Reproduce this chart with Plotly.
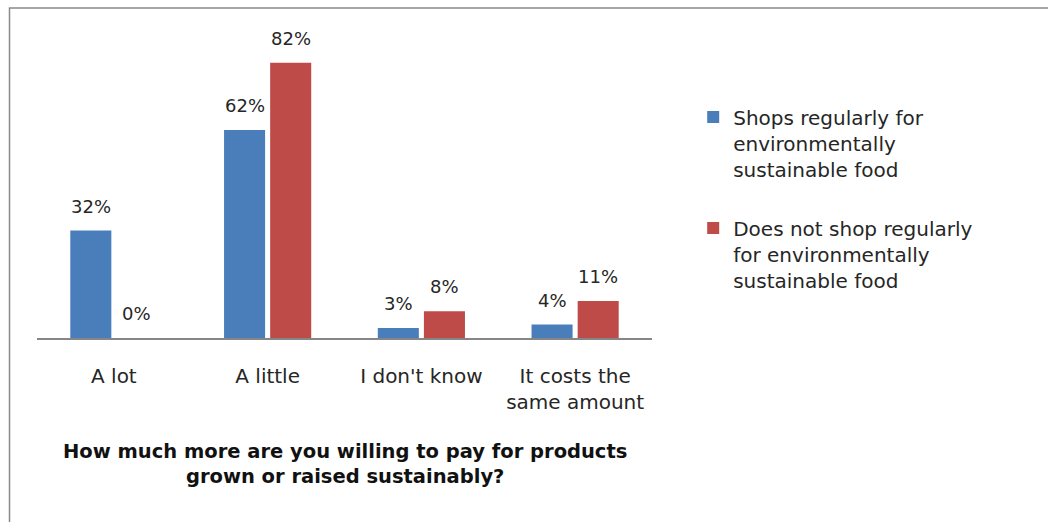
import plotly.graph_objects as go

categories = ["A lot", "A little", "I don't know", "It costs the<br>same amount"]
series_names = [
    "Shops regularly for<br>environmentally<br>sustainable food",
    "Does not shop regularly<br>for environmentally<br>sustainable food",
]
shops_regularly = [32, 62, 3, 4]
not_regularly = [0, 82, 8, 11]
title_lines = "How much more are you willing to pay for products<br>grown or raised sustainably?"

colors = ["#4A7EBB", "#BE4B48"]
BARGAP = 0.4
BARGROUPGAP = 0.11
FONT = "DejaVu Sans"
TXT = "#262626"

fig = go.Figure()
all_series = [shops_regularly, not_regularly]
for k, (name, vals, col) in enumerate(zip(series_names, all_series, colors)):
    fig.add_trace(go.Bar(x=categories, y=vals, name=name, marker_color=col,
                         legendgroup=f"g{k}", marker_line_width=0, hoverinfo="skip"))

# value labels above bars, at the grouped bar centres
n = len(all_series)
slot = (1 - BARGAP) / n
for k, vals in enumerate(all_series):
    off = -(1 - BARGAP) / 2 + slot * (k + 0.5)
    for i, v in enumerate(vals):
        fig.add_annotation(x=i + off, y=v, xref="x", yref="y", text=f"{v}%",
                           showarrow=False, yanchor="bottom", yshift=12,
                           font=dict(family=FONT, size=18, color=TXT))

fig.add_annotation(x=0.5, y=-0.418, xref="paper", yref="paper", text=f"<b>{title_lines}</b>",
                   showarrow=False, xanchor="center", yanchor="middle",
                   font=dict(family=FONT, size=19.5, color="#111111"))

# outer frame
fig.add_shape(type="rect", xref="paper", yref="paper", x0=-0.0447, x1=2, y0=-2, y1=1.0927,
              line=dict(color="#8a8a8a", width=1.5))

fig.update_layout(
    width=1048, height=522,
    margin=dict(l=37, r=396, t=36, b=184),
    paper_bgcolor="white", plot_bgcolor="white",
    barmode="group", bargap=BARGAP, bargroupgap=BARGROUPGAP,
    font=dict(family=FONT, size=20, color=TXT),
    showlegend=True,
    legend=dict(x=1.067, y=0.462, xanchor="left", yanchor="middle", valign="top",
                traceorder="grouped", tracegroupgap=30,
                font=dict(family=FONT, size=20, color=TXT),
                bgcolor="rgba(0,0,0,0)"),
    xaxis=dict(showline=True, linecolor="#868686", linewidth=1.5, ticks="",
               showgrid=False, ticklabelstandoff=19, fixedrange=True,
               tickfont=dict(family=FONT, size=20, color=TXT)),
    yaxis=dict(range=[0, 90], visible=False, showgrid=False, zeroline=False, fixedrange=True),
)

fig.write_html("out.html")
